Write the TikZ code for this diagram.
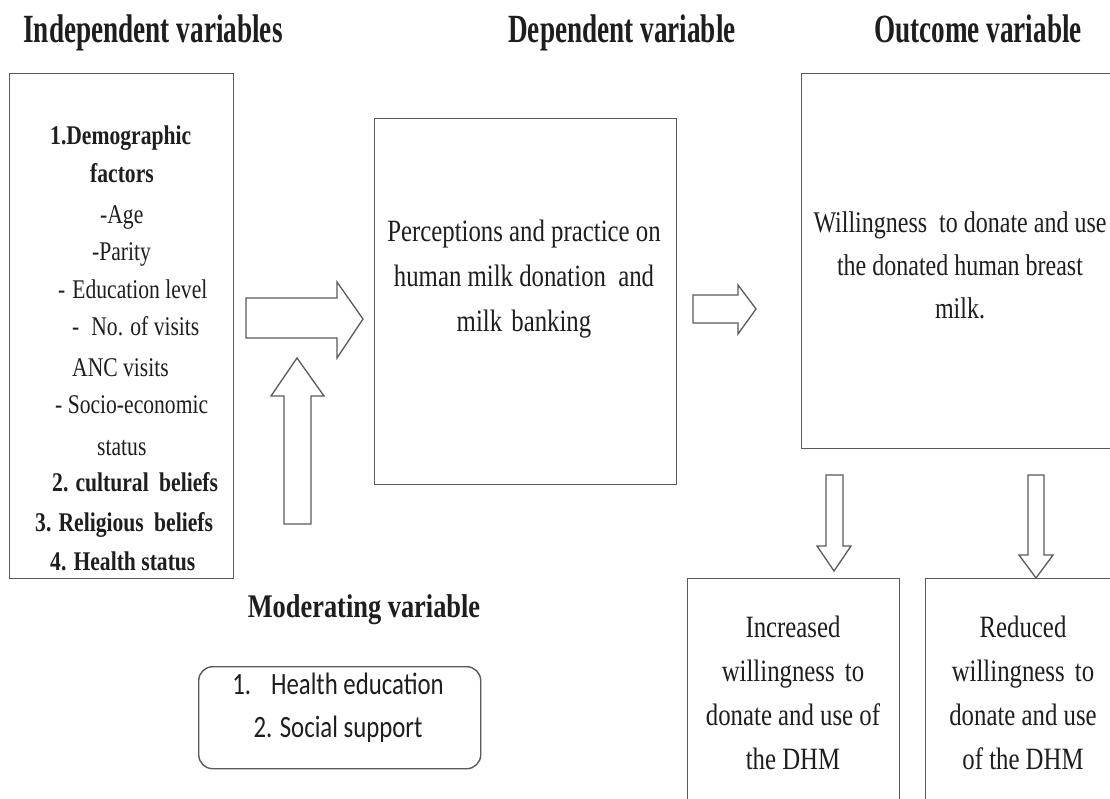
\documentclass[tikz,border=0pt]{standalone}
\usepackage{fontspec}
\setmainfont{Liberation Serif}[FakeStretch=0.8]
\newfontfamily\titlefont{Liberation Serif}[FakeStretch=0.68]
\newfontfamily\calfont{Carlito}[FakeStretch=0.8]
\definecolor{linec}{HTML}{5A5A5A}
\definecolor{txtc}{HTML}{1E1E1E}
\begin{document}
\begin{tikzpicture}[x=1pt,y=-1pt,
  boxst/.style={draw=linec, line width=1.4pt, rectangle, inner sep=0pt, anchor=north west},
  blk/.style={draw=linec, line width=1.3pt, fill=white, line join=miter},
  txt/.style={text=txtc, inner sep=0pt},
  title/.style={txt, anchor=base, font=\titlefont\fontsize{40}{44}\selectfont\bfseries},
  leftl/.style={txt, anchor=base west, font=\fontsize{27}{39}\selectfont},
  boxtext/.style={txt, align=center, font=\fontsize{31}{44}\selectfont},
]
\clip (0,0) rectangle (1110,798);
\fill[white] (0,0) rectangle (1110,798);

% titles
\node[title] (tind) at (153,42) {Independent variables};
\node[title] (tdep) at (622,42) {Dependent variable};
\node[title] (tout) at (978,42) {Outcome variable};
\node[title, font=\fontsize{33}{40}\selectfont\bfseries] (tmod) at (364,617) {Moderating variable};

% boxes
\node[boxst, minimum width=224pt, minimum height=505pt] (indep) at (9,73) {};
\node[boxst, minimum width=302pt, minimum height=366pt] (dep) at (374,118) {};
\node[boxst, minimum width=318pt, minimum height=375pt] (out) at (801,73) {};
\node[boxst, minimum width=212pt, minimum height=240pt] (inc) at (687,578) {};
\node[boxst, minimum width=196pt, minimum height=240pt] (red) at (925,578) {};
\node[boxst, rounded corners=14pt, minimum width=282pt, minimum height=102pt] (mod) at (198,666) {};

% independent variable lines
\node[leftl] (l1) at (50,144) {\bfseries 1.Demographic};
\node[leftl] (l2) at (90,182) {\bfseries factors};
\node[leftl] (l3) at (100,223) {-Age};
\node[leftl] (l4) at (92,260) {-Parity};
\node[leftl] (l5) at (58,298) {-\hspace{7pt}Education level};
\node[leftl] (l6) at (72,335) {-\hspace{12pt}No. of visits};
\node[leftl] (l7) at (72,376) {ANC visits};
\node[leftl] (l8) at (55,413) {- Socio-economic};
\node[leftl] (l9) at (97,455) {status};
\node[leftl] (l10) at (52,491) {\bfseries 2. cultural\hspace{5pt} beliefs};
\node[leftl] (l11) at (35,531) {\bfseries 3. Religious\hspace{5pt} beliefs};
\node[leftl] (l12) at (50,570) {\bfseries 4. Health status};

% box texts
\node[boxtext, font=\fontsize{31}{45}\selectfont] (deptext) at (524,279) {Perceptions and practice on\\human milk donation\hspace{6pt} and\\milk\hspace{3pt} banking};
\node[boxtext, font=\fontsize{30}{43}\selectfont] (outtext) at (960,265) {Willingness\hspace{6pt} to donate and use\\the donated human breast\\milk.};
\node[boxtext] (inctext) at (793,693) {Increased\\willingness\hspace{4pt} to\\donate and use of\\the DHM};
\node[boxtext] (redtext) at (1023,693) {Reduced\\willingness\hspace{4pt} to\\donate and use\\of the DHM};
\node[txt, align=center, font=\fontsize{31}{43}\selectfont\calfont] (modtext) at (338,708) {1.\hspace{20pt}Health education\\2. Social support};

% block arrows
\draw[blk] (246,298) -- (337,298) -- (337,282) -- (363,319) -- (337,358) -- (337,338) -- (246,338) -- cycle;
\draw[blk] (284,524) -- (284,396) -- (271,396) -- (297,358) -- (324,396) -- (311,396) -- (311,524) -- cycle;
\draw[blk] (693,295) -- (738,295) -- (738,285) -- (756,309) -- (738,334) -- (738,323) -- (693,323) -- cycle;
\draw[blk] (826,475) -- (843,475) -- (843,546) -- (851,546) -- (834,571) -- (817,546) -- (826,546) -- cycle;
\draw[blk] (1028,475) -- (1044,475) -- (1044,555) -- (1053,555) -- (1036,578) -- (1019,555) -- (1028,555) -- cycle;
\end{tikzpicture}
\end{document}
